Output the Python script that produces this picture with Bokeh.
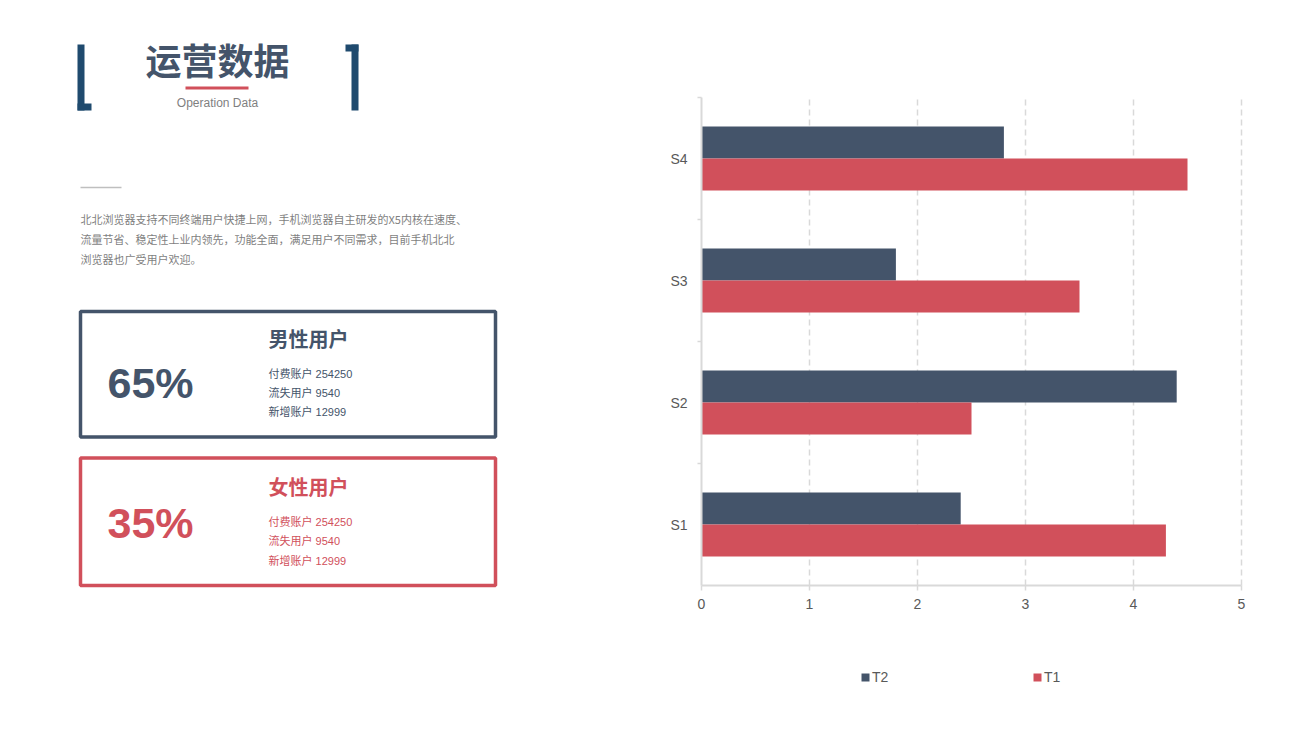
from bokeh.plotting import figure
from bokeh.models import Range1d, ColumnDataSource, Legend, LegendItem, FixedTicker, LinearAxis
from bokeh.core.properties import value
from bokeh.embed import file_html
from bokeh.resources import INLINE

# ---------------- data ----------------
categories = ["S1", "S2", "S3", "S4"]
t1_values = [4.3, 2.5, 3.5, 4.5]
t2_values = [2.4, 4.4, 1.8, 2.8]
x_ticks = [0, 1, 2, 3, 4, 5]

title_text = "运营数据"
subtitle_text = "Operation Data"
paragraph_lines = [
    "北北浏览器支持不同终端用户快捷上网，手机浏览器自主研发的X5内核在速度、",
    "流量节省、稳定性上业内领先，功能全面，满足用户不同需求，目前手机北北",
    "浏览器也广受用户欢迎。",
]
male_pct = "65%"
female_pct = "35%"
male_title = "男性用户"
female_title = "女性用户"
male_lines = ["付费账户 254250", "流失用户 9540", "新增账户 12999"]
female_lines = ["付费账户 254250", "流失用户 9540", "新增账户 12999"]

# ---------------- styles / layout constants ----------------
NAVY = "#44546A"
RED = "#D1505B"
BRACKET = "#1F4A6E"
GRAY_TXT = "#7F7F7F"
AXIS_TXT = "#595959"
AXIS_LINE = "#D9D9D9"
LATIN = "Liberation Sans, Noto Sans CJK SC"
CJK = "Noto Sans CJK SC"

W, H = 1290, 725
CX0, CX1, CY_TOP, CY_BOT = 701, 1241, 97, 585   # chart plot area (pixels)

p = figure(width=W, height=H, x_range=Range1d(0, W), y_range=Range1d(H, 0),
           output_backend="svg", toolbar_location=None,
           x_axis_location=None, y_axis_location=None, min_border=0)
p.outline_line_color = None
p.grid.visible = False
p.background_fill_color = "white"
p.border_fill_color = "white"

# ---------------- left panel ----------------
p.quad(left=[77, 77], right=[84, 91], top=[44, 103], bottom=[110, 110],
       fill_color=BRACKET, line_color=None)
p.quad(left=[351, 345], right=[358, 358], top=[44, 44], bottom=[110, 51],
       fill_color=BRACKET, line_color=None)

p.text(x=[217], y=[58], text=[title_text], text_font=value(CJK), text_font_style="bold",
       text_font_size="36px", text_color=NAVY, text_align="center", text_baseline="middle")
p.quad(left=[185], right=[248], top=[86], bottom=[89], fill_color=RED, line_color=None)
p.text(x=[217], y=[102], text=[subtitle_text], text_font=value("Liberation Sans"),
       text_font_size="12px", text_color=GRAY_TXT, text_align="center", text_baseline="middle")

p.line(x=[80, 121], y=[187, 187], line_color="#BFBFBF", line_width=1.5)
p.text(x=[80, 80, 80], y=[218, 238, 258], text=paragraph_lines, text_font=value(CJK),
       text_font_size="11px", text_color=GRAY_TXT, text_align="left", text_baseline="middle")

p.quad(left=[80], right=[495], top=[311], bottom=[436.5], fill_color=None,
       line_color=NAVY, line_width=3.5)
p.quad(left=[80], right=[495], top=[457.5], bottom=[585], fill_color=None,
       line_color=RED, line_width=3.5)

p.text(x=[107], y=[382], text=[male_pct], text_font=value("Liberation Sans"), text_font_style="bold",
       text_font_size="43px", text_color=NAVY, text_align="left", text_baseline="middle")
p.text(x=[107], y=[522], text=[female_pct], text_font=value("Liberation Sans"), text_font_style="bold",
       text_font_size="43px", text_color=RED, text_align="left", text_baseline="middle")

p.text(x=[268], y=[338], text=[male_title], text_font=value(CJK), text_font_style="bold",
       text_font_size="20px", text_color=NAVY, text_align="left", text_baseline="middle")
p.text(x=[268], y=[486], text=[female_title], text_font=value(CJK), text_font_style="bold",
       text_font_size="20px", text_color=RED, text_align="left", text_baseline="middle")

p.text(x=[268] * 3, y=[373, 392, 411], text=male_lines, text_font=value(LATIN),
       text_font_size="11px", text_color=NAVY, text_align="left", text_baseline="middle")
p.text(x=[268] * 3, y=[521, 540.5, 560], text=female_lines, text_font=value(LATIN),
       text_font_size="11px", text_color=RED, text_align="left", text_baseline="middle")

# ---------------- chart (own scales via extra ranges) ----------------
x_max = x_ticks[-1]
n = len(categories)
ppu = (CX1 - CX0) / x_max
ppc = (CY_BOT - CY_TOP) / n
p.extra_x_ranges = {"val": Range1d(-CX0 / ppu, (W - CX0) / ppu)}
p.extra_y_ranges = {"cat": Range1d(0.5 - (H - CY_BOT) / ppc, n + 0.5 + CY_TOP / ppc)}

pos = list(range(1, n + 1))          # category slots: S1 at 1 ... S4 at n
bar_h = 0.262
src = ColumnDataSource(dict(
    pos=pos, t1=t1_values, t2=t2_values,
    y_t2=[v + bar_h / 2 for v in pos], y_t1=[v - bar_h / 2 for v in pos]))

# dashed vertical grid
p.segment(x0=x_ticks[1:], x1=x_ticks[1:], y0=[0.5] * (len(x_ticks) - 1), y1=[n + 0.5] * (len(x_ticks) - 1),
          x_range_name="val", y_range_name="cat", line_color=AXIS_LINE, line_width=1.5, line_dash="6 4")

r2 = p.hbar(y="y_t2", left=0, right="t2", height=bar_h, source=src,
            x_range_name="val", y_range_name="cat", fill_color=NAVY, line_color=None)
r1 = p.hbar(y="y_t1", left=0, right="t1", height=bar_h, source=src,
            x_range_name="val", y_range_name="cat", fill_color=RED, line_color=None)

xa = LinearAxis(x_range_name="val", y_range_name="cat", fixed_location=0.5, bounds=(0, x_max),
                ticker=FixedTicker(ticks=x_ticks))
xa.axis_line_color = AXIS_LINE
xa.axis_line_width = 2
xa.major_tick_line_color = AXIS_LINE
xa.major_tick_line_width = 1.5
xa.major_tick_in = 0
xa.major_tick_out = 5
xa.minor_tick_line_color = None
xa.major_label_text_font = "Liberation Sans"
xa.major_label_text_font_size = "14px"
xa.major_label_text_color = AXIS_TXT
xa.major_label_standoff = 8
p.add_layout(xa, "below")

ya = LinearAxis(x_range_name="val", y_range_name="cat", fixed_location=0, bounds=(0.5, n + 0.5),
                ticker=FixedTicker(ticks=pos, minor_ticks=[v + 0.5 for v in pos]),
                major_label_overrides={v: c for v, c in zip(pos, categories)})
ya.axis_line_color = AXIS_LINE
ya.axis_line_width = 2
ya.major_tick_line_color = None
ya.major_tick_in = 0
ya.major_tick_out = 0
ya.minor_tick_line_color = AXIS_LINE
ya.minor_tick_line_width = 1.5
ya.minor_tick_in = 0
ya.minor_tick_out = 4
ya.major_label_text_font = "Liberation Sans"
ya.major_label_text_font_size = "14px"
ya.major_label_text_color = AXIS_TXT
ya.major_label_standoff = 10
p.add_layout(ya, "left")

legend = Legend(items=[LegendItem(label="T2", renderers=[r2]), LegendItem(label="T1", renderers=[r1])],
                orientation="horizontal", location=(860, 40), padding=0, margin=0,
                spacing=60, label_width=100, label_standoff=2, glyph_width=10, glyph_height=10,
                label_height=10, label_text_font="Liberation Sans", label_text_font_size="14px",
                label_text_color=AXIS_TXT, border_line_color=None, background_fill_alpha=0)
p.add_layout(legend, "center")

open("out.html", "w").write(file_html(p, INLINE))
